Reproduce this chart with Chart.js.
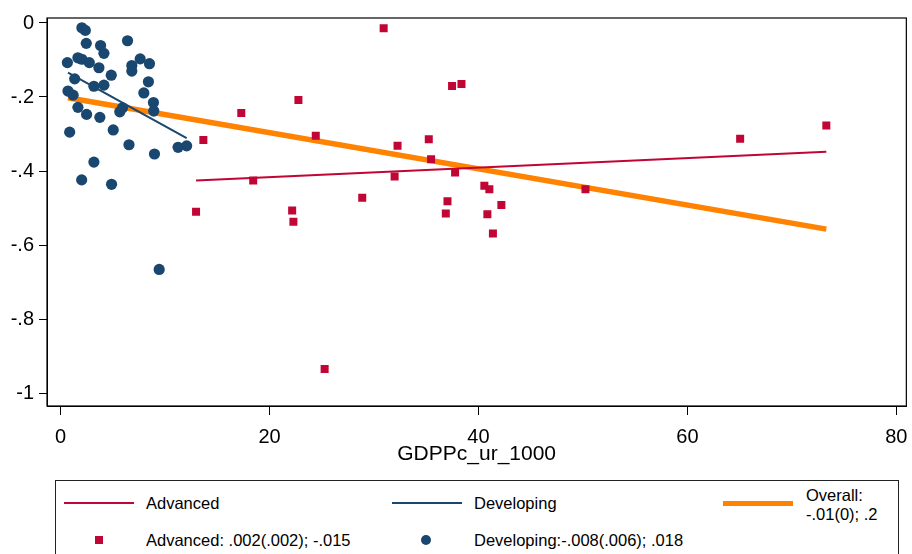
<!DOCTYPE html>
<html>
<head>
<meta charset="utf-8">
<script src="https://cdn.jsdelivr.net/npm/chart.js@4/dist/chart.umd.min.js"></script>
<style>
html,body{margin:0;padding:0;background:#fff;}
#wrap{position:relative;width:912px;height:554px;overflow:hidden;font-family:"Liberation Sans",Arial,Helvetica,sans-serif;background:#fff;}
#c{position:absolute;left:0;top:0;}
#legend{position:absolute;left:55px;top:480px;width:844px;height:100px;border:1px solid #222;box-sizing:border-box;background:#fff;}
.sw{position:absolute;}
.tx{position:absolute;font-size:16.5px;color:#000;line-height:20px;white-space:nowrap;}
</style>
</head>
<body>
<div id="wrap">
<canvas id="c" width="912" height="554"></canvas>
<div id="legend"></div>
</div>
<script>
// ---- data ----
const advX = [30.92, 37.47, 38.37, 22.76, 17.29, 13.66, 24.42, 32.25, 35.24, 35.46, 37.76, 18.43, 31.97, 28.87,
              40.56, 41.04, 37.03, 42.19, 12.96, 22.16, 22.28, 36.87, 40.85, 41.38, 50.24, 65.05, 73.3, 25.27];
const advY = [-0.014, -0.170, -0.165, -0.208, -0.243, -0.316, -0.305, -0.332, -0.314, -0.368, -0.404, -0.426, -0.415, -0.472,
              -0.440, -0.449, -0.482, -0.492, -0.510, -0.507, -0.537, -0.515, -0.517, -0.569, -0.449, -0.313, -0.277, -0.935];

const devX = [2.03, 2.36, 2.45, 3.82, 4.14, 6.40, 0.64, 1.65, 2.03, 2.74, 3.66, 4.84, 1.34, 3.18, 4.14, 0.70, 1.19,
              7.61, 8.50, 6.81, 6.81, 8.40, 7.96, 8.88, 8.91, 1.65, 2.48, 3.75, 5.92, 5.66, 0.86, 5.03, 6.54,
              3.18, 2.01, 4.87, 8.98, 11.24, 12.06, 9.43];
const devY = [-0.013, -0.020, -0.055, -0.061, -0.082, -0.048, -0.107, -0.094, -0.098, -0.107, -0.121, -0.141, -0.151, -0.171, -0.168, -0.184, -0.195,
              -0.097, -0.110, -0.115, -0.130, -0.159, -0.189, -0.215, -0.238, -0.228, -0.247, -0.255, -0.229, -0.240, -0.295, -0.289, -0.329,
              -0.376, -0.424, -0.436, -0.354, -0.336, -0.332, -0.666];

// fitted lines (end points)
const advFitX = [12.96, 73.3];
const advFitY = [-0.426, -0.348];
const devFitX = [0.70, 12.06];
const devFitY = [-0.134, -0.311];
const allFitX = [0.70, 73.3];
const allFitY = [-0.202, -0.557];

const xTicks = [0, 20, 40, 60, 80];
const yTicks = [0, -0.2, -0.4, -0.6, -0.8, -1];
const xTitle = "GDPPc_ur_1000";

const legendLine = ["Advanced", "Developing", ["Overall:", "-.01(0); .2"]];
const legendMark = ["Advanced: .002(.002); -.015", "Developing:-.008(.006); .018"];

// ---- styles ----
const RED = "#c10534", BLUE = "#1a476f", ORANGE = "#ff8200";
const FONT = "'Liberation Sans', Arial, Helvetica, sans-serif";

const pts = (xs, ys) => xs.map((x, i) => ({x: x, y: ys[i]}));
const fmt = v => { let s = String(Math.round(v * 10) / 10); return s.replace(/^(-?)0\./, "$1."); };

const framePlugin = {
  id: "frame",
  afterDraw(chart) {
    const a = chart.chartArea, ctx = chart.ctx;
    ctx.save();
    ctx.strokeStyle = "#000";
    ctx.lineWidth = 1.2;
    ctx.strokeRect(a.left, a.top, a.right - a.left, a.bottom - a.top);
    ctx.restore();
  }
};

Chart.defaults.color = "#000";
Chart.defaults.font.family = FONT;

new Chart(document.getElementById("c"), {
  type: "scatter",
  data: {
    datasets: [
      {label: "Advanced pts", data: pts(advX, advY), pointStyle: "rect", pointRadius: 5.66, pointHoverRadius: 5.66,
       backgroundColor: RED, borderColor: RED, borderWidth: 0},
      {label: "Developing pts", data: pts(devX, devY), pointStyle: "circle", pointRadius: 5.6, pointHoverRadius: 5.6,
       backgroundColor: BLUE, borderColor: BLUE, borderWidth: 0},
      {label: "Advanced", data: pts(advFitX, advFitY), showLine: true, pointRadius: 0, borderColor: RED, borderWidth: 2, fill: false},
      {label: "Developing", data: pts(devFitX, devFitY), showLine: true, pointRadius: 0, borderColor: BLUE, borderWidth: 2, fill: false},
      {label: "Overall", data: pts(allFitX, allFitY), showLine: true, pointRadius: 0, borderColor: ORANGE, borderWidth: 5.5, fill: false, borderCapStyle: "butt"}
    ]
  },
  options: {
    responsive: false,
    animation: false,
    devicePixelRatio: 1,
    layout: {padding: {left: 0, right: 4, top: 18, bottom: 87}},
    plugins: {legend: {display: false}, tooltip: {enabled: false}},
    scales: {
      x: {
        type: "linear", min: -1.31, max: 80.96,
        afterBuildTicks: ax => { ax.ticks = xTicks.map(v => ({value: v})); },
        afterFit: ax => { ax.height = 61; ax.paddingLeft = 0; ax.paddingRight = 0; },
        grid: {drawOnChartArea: false, drawTicks: true, tickLength: 9, tickColor: "#000", tickWidth: 1},
        border: {display: true, color: "#000", width: 1},
        ticks: {font: {size: 20, family: FONT}, padding: 10, maxRotation: 0, color: "#000", callback: v => String(v)},
        title: {display: true, text: xTitle, font: {size: 21, family: FONT}, padding: {top: 0, bottom: 0}, color: "#000"}
      },
      y: {
        type: "linear", min: -1.0351, max: 0.0135,
        afterBuildTicks: ax => { ax.ticks = yTicks.map(v => ({value: v})); },
        afterFit: ax => { ax.width = 47; ax.paddingTop = 0; ax.paddingBottom = 0; },
        grid: {drawOnChartArea: false, drawTicks: true, tickLength: 8, tickColor: "#000", tickWidth: 1},
        border: {display: true, color: "#000", width: 1},
        ticks: {font: {size: 20, family: FONT}, padding: 5, color: "#000", callback: v => fmt(v)}
      }
    }
  },
  plugins: [framePlugin]
});

// ---- legend (HTML, real text) ----
const lg = document.getElementById("legend");
function add(cls, css, text) {
  const d = document.createElement("div");
  d.className = cls;
  Object.assign(d.style, css);
  if (text !== undefined) d.textContent = text;
  lg.appendChild(d);
  return d;
}
// row 1: lines
add("sw", {left: "8px", top: "21px", width: "70px", height: "2px", background: RED});
add("tx", {left: "90px", top: "12px"}, legendLine[0]);
add("sw", {left: "336px", top: "21px", width: "70px", height: "2px", background: BLUE});
add("tx", {left: "418px", top: "12px"}, legendLine[1]);
add("sw", {left: "667px", top: "19.5px", width: "70px", height: "5px", background: ORANGE});
add("tx", {left: "750px", top: "4px"}, legendLine[2][0]);
add("tx", {left: "750px", top: "23px"}, legendLine[2][1]);
// row 2: markers
add("sw", {left: "39px", top: "55px", width: "8px", height: "8px", background: RED});
add("tx", {left: "90px", top: "49px"}, legendMark[0]);
add("sw", {left: "365px", top: "54px", width: "10px", height: "10px", background: BLUE, borderRadius: "50%"});
add("tx", {left: "418px", top: "49px"}, legendMark[1]);
</script>
</body>
</html>
